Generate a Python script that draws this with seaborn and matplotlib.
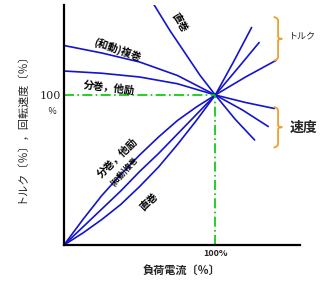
import matplotlib
matplotlib.use("Agg")
import matplotlib.pyplot as plt
import seaborn as sns
import pandas as pd

sns.set_theme(style="white")
plt.rcParams['font.family'] = ['Noto Sans CJK JP', 'DejaVu Sans']

# ---- data (load current %, value %) ----
shunt_torque_x = [0, 12.5, 25, 37.5, 50, 62.5, 75, 87.5, 100, 120, 140]
shunt_torque_y = [0, 17, 33, 47, 60, 72, 83, 92, 100, 112, 123]
comp_torque_x = [0, 12.5, 25, 37.5, 50, 62.5, 75, 87.5, 100, 115, 129]
comp_torque_y = [0, 12, 24, 36, 49, 61, 74, 87, 100, 118, 135]
series_torque_x = [0, 12.5, 25, 37.5, 50, 62.5, 75, 87.5, 100, 112, 124]
series_torque_y = [0, 8, 17, 27, 39, 52, 67, 83, 100, 122, 145]

shunt_speed_x = [0, 25, 50, 75, 100, 120, 139]
shunt_speed_y = [116, 114.5, 112, 107.5, 100, 95, 91]
comp_speed_x = [0, 25, 50, 75, 100, 118, 135]
comp_speed_y = [133, 128, 122, 113, 100, 90, 79]
series_speed_x = [59, 70, 80, 90, 100, 113, 126]
series_speed_y = [161, 143, 128, 113, 100, 84, 70]

curves = {
    "shunt_torque": (shunt_torque_x, shunt_torque_y),
    "comp_torque": (comp_torque_x, comp_torque_y),
    "series_torque": (series_torque_x, series_torque_y),
    "shunt_speed": (shunt_speed_x, shunt_speed_y),
    "comp_speed": (comp_speed_x, comp_speed_y),
    "series_speed": (series_speed_x, series_speed_y),
}
rows = []
for name, (xs, ys) in curves.items():
    for xv, yv in zip(xs, ys):
        rows.append({"load": xv, "value": yv, "curve": name})
df = pd.DataFrame(rows)

rated = 100
x_tick_label = "100%"
y_tick_label = "100"

BLUE = "#1414cc"
GREEN = "#00c800"
ORANGE = "#f0a030"

fig = plt.figure(figsize=(3.3, 2.84), dpi=100)
ax = fig.add_axes([64/330, 1-245/284, (300-64)/330, (245-5)/284])

sns.lineplot(data=df, x="load", y="value", hue="curve",
             palette={k: BLUE for k in curves}, legend=False,
             estimator=None, sort=False, linewidth=1.2, ax=ax)

ax.plot([0, rated], [rated, rated], color=GREEN, linestyle=(0, (6, 2, 1, 2)), linewidth=1.2)
ax.plot([rated, rated], [0, rated], color=GREEN, linestyle=(0, (6, 2, 1, 2)), linewidth=1.2)

ax.set_xlim(0, 156)
ax.set_ylim(0, 160)
for s in ["top", "right"]:
    ax.spines[s].set_visible(False)
for s in ["left", "bottom"]:
    ax.spines[s].set_color("black")
    ax.spines[s].set_linewidth(1.6)

ax.set_xticks([rated], [x_tick_label])
ax.set_yticks([rated], [y_tick_label])
ax.tick_params(axis="both", length=0, pad=2)
ax.tick_params(axis="x", labelsize=6.5, pad=3)
ax.tick_params(axis="y", labelsize=8, pad=2)
for t in ax.get_yticklabels():
    t.set_fontfamily(["DejaVu Serif"])
for t in ax.get_xticklabels():
    t.set_fontweight("bold")
ax.text(-8, 89, "％", fontsize=6.5, ha="center", va="center", clip_on=False)

ax.set_xlabel("負荷電流〔％〕", fontsize=8, fontweight="bold", labelpad=4)
ax.set_ylabel("トルク〔％〕，回転速度〔％〕", fontsize=8, labelpad=10)

lab = dict(color="black", fontsize=7.5, fontweight="bold", ha="center", va="center")
ax.text(76, 148, "直巻", rotation=-58, **lab)
ax.text(35, 130, "(和動)複巻", rotation=-19, **lab)
ax.text(30, 105, "分巻，他励", rotation=-7, **lab)
ax.text(35, 58, "分巻，他励", rotation=44, **lab)
ax.text(40, 49, "(和動)複巻", rotation=48, color="black", fontsize=5.5, fontweight="bold", ha="center", va="center")
ax.text(56, 29, "直巻", rotation=44, **lab)

def brace(x, y_top, y_bot, w=2.5):
    ym = (y_top + y_bot) / 2
    e = 2.0
    xs = [x - w, x - w*0.3, x, x, x + w*0.2, x + w, x + w*0.2, x, x, x - w*0.3, x - w]
    ys = [y_top, y_top - e*0.4, y_top - e, ym + e*0.6, ym + e*0.2, ym, ym - e*0.2, ym - e*0.6, y_bot + e, y_bot + e*0.4, y_bot]
    ax.plot(xs, ys, color=ORANGE, linewidth=1.3, clip_on=False, solid_capstyle="round")

brace(141.5, 152, 123)
brace(141.5, 92, 65)
ax.text(148, 139, "トルク", fontsize=6.5, ha="left", va="center", clip_on=False)
ax.text(149, 78, "速度", fontsize=10, fontweight="bold", ha="left", va="center", clip_on=False)

fig.savefig("out.png", dpi=100)
